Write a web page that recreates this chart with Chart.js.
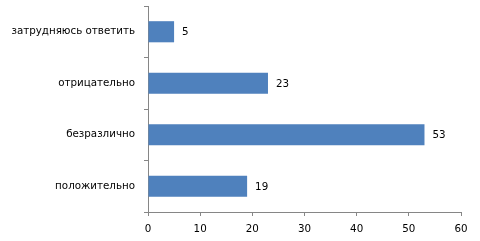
<!DOCTYPE html>
<html>
<head>
<meta charset="utf-8">
<script src="https://cdn.jsdelivr.net/npm/chart.js@4/dist/chart.umd.min.js"></script>
<style>
  html, body { margin: 0; padding: 0; background: #fff; }
  #wrap { width: 480px; height: 241px; }
</style>
</head>
<body>
<div id="wrap"><canvas id="barChart" width="480" height="241"></canvas></div>
<script>
// Answers, top to bottom as in the picture
const categories = ['затрудняюсь ответить', 'отрицательно', 'безразлично', 'положительно'];
const answerCounts = [5, 23, 53, 19];
const xTicks = [0, 10, 20, 30, 40, 50, 60];

const axisGray = '#868686';
const labelFont = { family: '"DejaVu Sans", sans-serif', size: 10.3 };

// draws the value just right of each bar
const valueLabels = {
    id: 'valueLabels',
    afterDatasetsDraw(chart) {
        const ctx = chart.ctx;
        const meta = chart.getDatasetMeta(0);
        ctx.save();
        ctx.font = '10.3px "DejaVu Sans", sans-serif';
        ctx.fillStyle = '#000';
        ctx.textAlign = 'left';
        ctx.textBaseline = 'middle';
        meta.data.forEach(function(bar, i) {
            ctx.fillText(String(answerCounts[i]), bar.x + 8, bar.y + 1);
        });
        ctx.restore();
    }
};

const ctx = document.getElementById('barChart').getContext('2d');
window.barChart = new Chart(ctx, {
    type: 'bar',
    data: {
        labels: categories,
        datasets: [{
            data: answerCounts,
            backgroundColor: '#4F81BD',
            borderWidth: 0,
            categoryPercentage: 1,
            barPercentage: 0.41
        }]
    },
    options: {
        indexAxis: 'y',
        responsive: false,
        animation: false,
        layout: { padding: { top: 6, right: 19, left: 0, bottom: 0 } },
        plugins: {
            legend: { display: false },
            tooltip: { enabled: false }
        },
        scales: {
            x: {
                min: 0,
                max: 60,
                afterBuildTicks: function(scale) {
                    scale.ticks = xTicks.map(v => ({ value: v }));
                },
                afterFit: function(scale) {
                    scale.height = 29;
                    scale.paddingLeft = 0;
                    scale.paddingRight = 0;
                },
                grid: { drawOnChartArea: false, color: axisGray, tickLength: 4 },
                border: { color: axisGray },
                ticks: { color: '#000', padding: 7, font: labelFont }
            },
            y: {
                afterFit: function(scale) {
                    scale.width = 148;
                    scale.paddingTop = 0;
                    scale.paddingBottom = 0;
                },
                grid: { drawOnChartArea: false, color: axisGray, tickLength: 4, offset: true },
                border: { color: axisGray },
                ticks: { color: '#000', padding: 9, font: labelFont }
            }
        }
    },
    plugins: [valueLabels]
});
</script>
</body>
</html>
